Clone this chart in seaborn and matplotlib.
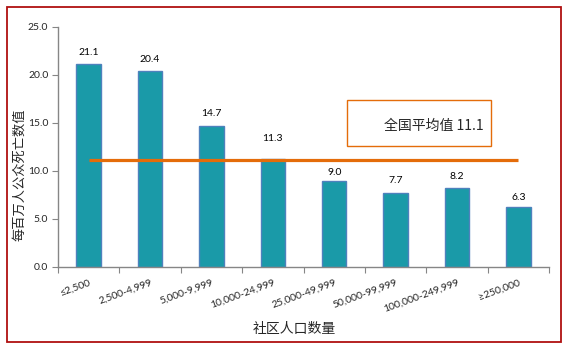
import matplotlib
matplotlib.use("Agg")
import matplotlib.pyplot as plt
from matplotlib.patches import Rectangle
import seaborn as sns
import pandas as pd

# Deaths per million by community population size
categories = ["≤2,500", "2,500-4,999", "5,000-9,999", "10,000-24,999",
              "25,000-49,999", "50,000-99,999", "100,000-249,999", "≥250,000"]
values = [21.1, 20.4, 14.7, 11.3, 9.0, 7.7, 8.2, 6.3]
national_avg = 11.1
y_ticks = [0, 5, 10, 15, 20, 25]

sns.set_theme(style="white")
plt.rcParams["font.family"] = ["Noto Sans CJK SC", "DejaVu Sans"]
num_font = ["Lato", "DejaVu Sans"]

df = pd.DataFrame({"size": categories, "rate": values})

fig = plt.figure(figsize=(5.69, 3.49), dpi=100)
ax = fig.add_axes([58 / 569, 1 - 267 / 349, (549 - 58) / 569, (267 - 27) / 349])

sns.barplot(data=df, x="size", y="rate", ax=ax, color="#1A9AA8",
            saturation=1, width=0.4, edgecolor="#4F81BD", linewidth=1.0)

# value labels; the 10,000-24,999 label is lifted clear of the average line
label_pad = [5, 5, 5.8, 11.5, 2.5, 5.8, 5, 3]
for bar, pad in zip(ax.patches, label_pad):
    h = bar.get_height()
    ax.annotate(f"{h:.1f}", (bar.get_x() + bar.get_width() / 2, h),
                xytext=(0, pad), textcoords="offset points", ha="center",
                va="bottom", fontsize=7.5, color="black", fontfamily=num_font)

# national average line across bar centres
ax.hlines(national_avg, 0, len(categories) - 1, color="#E46C0A", linewidth=2.3, zorder=3)

ax.set_xlim(-0.5, len(categories) - 0.5)
ax.set_ylim(0, 25)
ax.set_yticks(y_ticks)
ax.set_yticklabels([f"{v:.1f}" for v in y_ticks], fontsize=7.5, fontfamily=num_font)
ax.set_xticks(range(len(categories)))
ax.set_xticklabels(categories, rotation=20, ha="right", rotation_mode="anchor",
                   fontsize=7.5, fontfamily=num_font)
ax.set_xticks([i - 0.5 for i in range(len(categories) + 1)], minor=True)
ax.tick_params(axis="x", which="major", length=0, pad=8)
ax.tick_params(axis="x", which="minor", length=4, width=0.8, color="#868686", direction="out", bottom=True)
ax.tick_params(axis="y", length=4, width=0.8, color="#868686", direction="out", left=True, pad=3)
ax.set_xlabel("")
ax.set_ylabel("")

for side in ["top", "right"]:
    ax.spines[side].set_visible(False)
for side in ["left", "bottom"]:
    ax.spines[side].set_color("#868686")
    ax.spines[side].set_linewidth(1.0)

fig.text(20 / 569, 1 - 175 / 349, "每百万人公众死亡数值", rotation=90,
         ha="center", va="center", fontsize=9.5)
fig.text(294 / 569, 1 - 329 / 349, "社区人口数量", ha="center", va="center", fontsize=10)

# legend-like box for the national average
fig.patches.append(Rectangle((347 / 569, 1 - 146 / 349), 144 / 569, 46 / 349,
                             transform=fig.transFigure, fill=False,
                             edgecolor="#E46C0A", linewidth=1.0))
fig.text(384 / 569, 1 - 126 / 349, f"全国平均值 {national_avg}", ha="left",
         va="center", fontsize=10)

# outer frame
fig.patches.append(Rectangle((7 / 569, 1 - 342 / 349), 554 / 569, 335 / 349,
                             transform=fig.transFigure, fill=False,
                             edgecolor="#B01010", linewidth=1.3))

fig.savefig("out.png", dpi=100)
